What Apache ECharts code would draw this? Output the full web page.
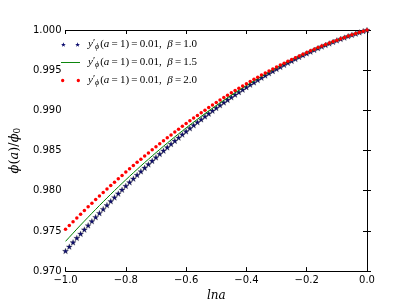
<!DOCTYPE html>
<html><head><meta charset="utf-8">
<script src="https://cdn.jsdelivr.net/npm/echarts@6/dist/echarts.min.js"></script>
<style>html,body{margin:0;padding:0;background:#fff}#c{width:409px;height:307px}</style>
</head><body><div id="c"></div>
<script>
const lna = [-1,-0.9875,-0.975,-0.9625,-0.95,-0.9375,-0.925,-0.9125,-0.9,-0.8875,-0.875,-0.8625,-0.85,-0.8375,-0.825,-0.8125,-0.8,-0.7875,-0.775,-0.7625,-0.75,-0.7375,-0.725,-0.7125,-0.7,-0.6875,-0.675,-0.6625,-0.65,-0.6375,-0.625,-0.6125,-0.6,-0.5875,-0.575,-0.5625,-0.55,-0.5375,-0.525,-0.5125,-0.5,-0.4875,-0.475,-0.4625,-0.45,-0.4375,-0.425,-0.4125,-0.4,-0.3875,-0.375,-0.3625,-0.35,-0.3375,-0.325,-0.3125,-0.3,-0.2875,-0.275,-0.2625,-0.25,-0.2375,-0.225,-0.2125,-0.2,-0.1875,-0.175,-0.1625,-0.15,-0.1375,-0.125,-0.1125,-0.1,-0.0875,-0.075,-0.0625,-0.05,-0.0375,-0.025,-0.0125,0];
const phiBeta10 = [0.97250,0.97304,0.97358,0.97412,0.97464,0.97517,0.97569,0.97620,0.97671,0.97721,0.97771,0.97820,0.97869,0.97917,0.97965,0.98012,0.98059,0.98105,0.98151,0.98196,0.98241,0.98285,0.98329,0.98372,0.98415,0.98457,0.98499,0.98540,0.98581,0.98621,0.98661,0.98700,0.98739,0.98777,0.98815,0.98852,0.98888,0.98925,0.98960,0.98995,0.99030,0.99064,0.99098,0.99131,0.99163,0.99196,0.99227,0.99258,0.99289,0.99319,0.99348,0.99378,0.99406,0.99434,0.99462,0.99489,0.99515,0.99541,0.99567,0.99592,0.99616,0.99640,0.99664,0.99687,0.99709,0.99731,0.99753,0.99774,0.99794,0.99814,0.99833,0.99852,0.99871,0.99889,0.99906,0.99923,0.99939,0.99955,0.99971,0.99986,1.00000];
const phiBeta15 = [0.97370,0.97421,0.97472,0.97523,0.97573,0.97622,0.97671,0.97720,0.97768,0.97816,0.97863,0.97910,0.97956,0.98002,0.98047,0.98092,0.98136,0.98180,0.98223,0.98266,0.98309,0.98351,0.98392,0.98433,0.98474,0.98514,0.98554,0.98593,0.98632,0.98670,0.98708,0.98745,0.98782,0.98818,0.98854,0.98890,0.98925,0.98959,0.98993,0.99027,0.99060,0.99093,0.99125,0.99157,0.99188,0.99219,0.99249,0.99279,0.99308,0.99337,0.99365,0.99393,0.99421,0.99448,0.99474,0.99500,0.99526,0.99551,0.99576,0.99600,0.99624,0.99647,0.99670,0.99692,0.99714,0.99735,0.99756,0.99777,0.99797,0.99816,0.99835,0.99854,0.99872,0.99890,0.99907,0.99924,0.99940,0.99955,0.99971,0.99986,1.00000];
const phiBeta20 = [0.97520,0.97568,0.97615,0.97662,0.97708,0.97754,0.97800,0.97845,0.97890,0.97934,0.97978,0.98021,0.98064,0.98107,0.98149,0.98191,0.98232,0.98273,0.98313,0.98354,0.98393,0.98432,0.98471,0.98510,0.98548,0.98585,0.98622,0.98659,0.98695,0.98731,0.98766,0.98801,0.98836,0.98870,0.98904,0.98937,0.98970,0.99003,0.99035,0.99066,0.99098,0.99128,0.99159,0.99189,0.99218,0.99247,0.99276,0.99304,0.99332,0.99359,0.99386,0.99413,0.99439,0.99465,0.99490,0.99515,0.99540,0.99564,0.99587,0.99610,0.99633,0.99656,0.99677,0.99699,0.99720,0.99741,0.99761,0.99781,0.99800,0.99819,0.99838,0.99856,0.99874,0.99891,0.99908,0.99924,0.99940,0.99956,0.99971,0.99986,1.00000];
const betaLabels = ['1.0', '1.5', '2.0'];
const seriesNames = ['beta10', 'beta15', 'beta20'];
const xTicks = {min: -1, max: 0, interval: 0.2};
const yTicks = {min: 0.970, max: 1.000, interval: 0.005};

const pair = (ys) => lna.map((x, i) => [x, ys[i]]);
const starPath = 'path://M2.5,0L3.09,1.69L4.88,1.73L3.45,2.81L3.97,4.52L2.5,3.5L1.03,4.52L1.55,2.81L0.12,1.73L1.91,1.69Z';
const twoStars = 'path://M2.5,0L3.09,1.69L4.88,1.73L3.45,2.81L3.97,4.52L2.5,3.5L1.03,4.52L1.55,2.81L0.12,1.73L1.91,1.69Z M16.5,0L17.09,1.69L18.88,1.73L17.45,2.81L17.97,4.52L16.5,3.5L15.03,4.52L15.55,2.81L14.12,1.73L15.91,1.69Z';
const lineIcon = 'path://M0,2L16,2L16,2.8L0,2.8Z';
const twoDots = 'path://M1,2.5A1.5,1.5 0 1,0 4,2.5A1.5,1.5 0 1,0 1,2.5Z M15,2.5A1.5,1.5 0 1,0 18,2.5A1.5,1.5 0 1,0 15,2.5Z';

const serif = 'Liberation Serif';
const rich = {
  i: {fontFamily: serif, fontStyle: 'italic', fontSize: 11, color: '#000'},
  n: {fontFamily: serif, fontSize: 11, color: '#000'},
  p: {fontFamily: serif, fontSize: 10, color: '#000', padding: [0, 0, 2, 0]},
  s: {fontFamily: serif, fontStyle: 'italic', fontSize: 8, color: '#000', padding: [5, 1, 0, 0]}
};
const fmtMinus = (v, d) => { const s = Math.abs(v).toFixed(d); return (v < -1e-9 ? '\u2212' : '') + s; };

const chart = echarts.init(document.getElementById('c'), null, {renderer: 'canvas'});
const axisLine = {show: true, lineStyle: {color: '#000', width: 1}};
const tick = {show: true, inside: true, length: 4, lineStyle: {color: '#000', width: 1}};
const navy = '#0c0c6e';
chart.setOption({
  animation: false,
  backgroundColor: '#fff',
  grid: {left: 51, right: 42, top: 30, bottom: 32, containLabel: false},
  legend: {
    orient: 'vertical', left: 61, top: 38, padding: 0, itemWidth: 19, itemHeight: 5, itemGap: 5,
    symbolKeepAspect: true,
    data: [
      {name: 'beta10', icon: twoStars, itemStyle: {color: navy, borderWidth: 0}},
      {name: 'beta15', icon: lineIcon, itemStyle: {color: '#008000', borderWidth: 0}},
      {name: 'beta20', icon: twoDots, itemStyle: {color: '#ff0000', borderWidth: 0}}
    ],
    formatter: (name) => {
      const b = betaLabels[seriesNames.indexOf(name)];
      return '{i|y}{p|\u2032}{s|\u03d5}{n|(}{i|a}{n|\u2009=\u20091)\u2009=\u20090.01,\u2002}{i|\u03b2}{n|\u2009=\u2009' + b + '}';
    },
    textStyle: {rich: rich, padding: [0, 0, 0, 3], lineHeight: 13}
  },
  xAxis: [
    {type: 'value', min: xTicks.min, max: xTicks.max, interval: xTicks.interval, position: 'bottom',
     axisLine: axisLine, axisTick: tick, splitLine: {show: false},
     axisLabel: {color: '#000', fontFamily: 'DejaVu Sans', fontSize: 10, margin: 4, formatter: v => fmtMinus(v, 1)},
     name: 'lna', nameLocation: 'middle', nameGap: 14,
     nameTextStyle: {fontFamily: 'DejaVu Serif', fontStyle: 'italic', fontSize: 12, color: '#000'}},
    {type: 'value', min: xTicks.min, max: xTicks.max, interval: xTicks.interval, position: 'top',
     axisLine: axisLine, axisTick: tick, splitLine: {show: false}, axisLabel: {show: false}}
  ],
  yAxis: [
    {type: 'value', min: yTicks.min, max: yTicks.max, interval: yTicks.interval, position: 'left',
     axisLine: axisLine, axisTick: tick, splitLine: {show: false},
     axisLabel: {color: '#000', fontFamily: 'DejaVu Sans', fontSize: 10, margin: 4, formatter: v => v.toFixed(3)},
     name: '{i|\u03d5}{n|(}{i|a}{n|)/}{i|\u03d5}{s|0}', nameLocation: 'middle', nameGap: 33,
     nameTextStyle: {rich: {
       i: {fontFamily: 'DejaVu Serif', fontStyle: 'italic', fontSize: 13, color: '#000'},
       n: {fontFamily: 'DejaVu Serif', fontSize: 13, color: '#000'},
       s: {fontFamily: 'DejaVu Serif', fontSize: 9, color: '#000', padding: [6, 0, 0, 0]}
     }}},
    {type: 'value', min: yTicks.min, max: yTicks.max, interval: yTicks.interval, position: 'right',
     axisLine: axisLine, axisTick: tick, splitLine: {show: false}, axisLabel: {show: false}}
  ],
  series: [
    {name: 'beta10', type: 'line', data: pair(phiBeta10), symbol: starPath, symbolSize: 6, showSymbol: true,
     symbolKeepAspect: true, lineStyle: {width: 0, opacity: 0},
     itemStyle: {color: navy, borderColor: '#333', borderWidth: 0.3}, z: 2},
    {name: 'beta15', type: 'line', data: pair(phiBeta15), symbol: 'none', showSymbol: false,
     lineStyle: {color: '#008000', width: 1}, itemStyle: {color: '#008000'}, z: 3},
    {name: 'beta20', type: 'line', data: pair(phiBeta20), symbol: 'circle', symbolSize: 3.5, showSymbol: true,
     lineStyle: {width: 0, opacity: 0}, itemStyle: {color: '#ff0000', borderWidth: 0}, z: 4}
  ]
});
</script></body></html>
